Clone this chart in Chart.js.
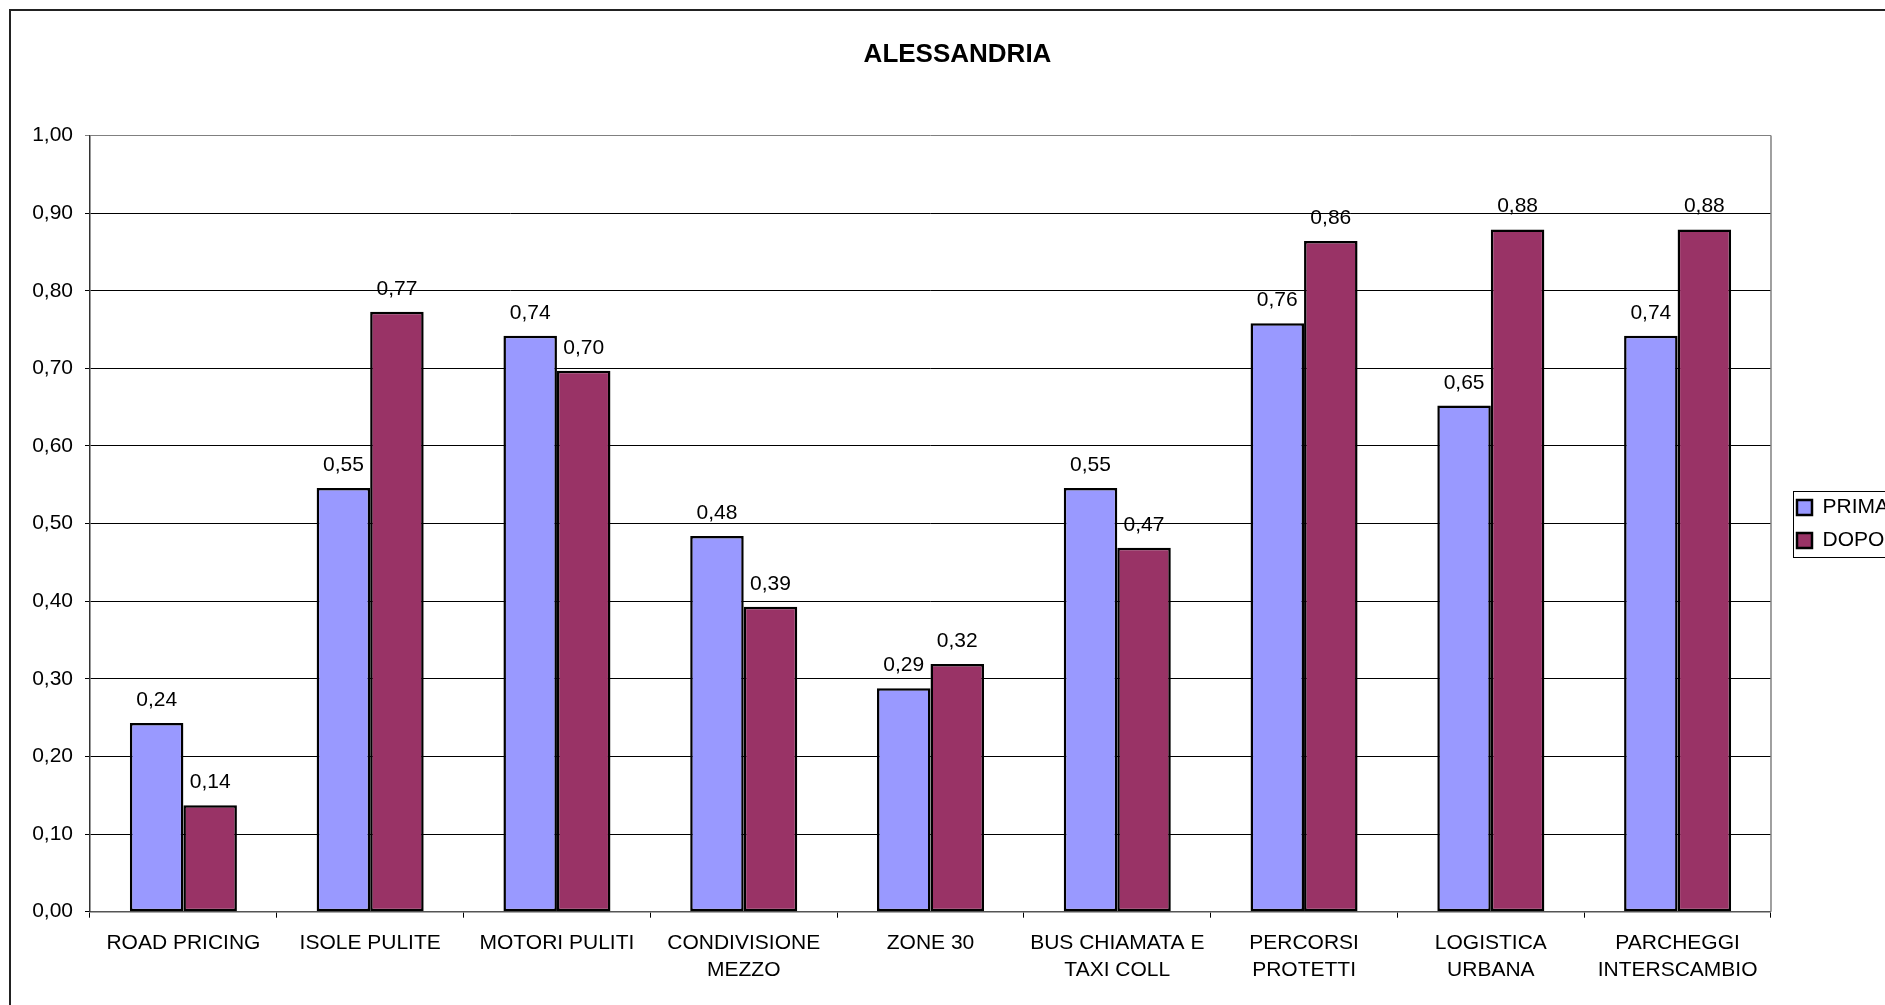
<!DOCTYPE html>
<html><head><meta charset="utf-8">
<script src="https://cdn.jsdelivr.net/npm/chart.js@4/dist/chart.umd.min.js"></script>
<style>html,body{margin:0;padding:0;background:#fff;overflow:hidden}canvas{display:block}</style>
</head><body>
<canvas id="c" width="1885" height="1005"></canvas>
<script>
const chartTitle = "ALESSANDRIA";
const categories = ["ROAD PRICING", "ISOLE PULITE", "MOTORI PULITI", ["CONDIVISIONE", "MEZZO"], "ZONE 30", ["BUS CHIAMATA E", "TAXI COLL"], ["PERCORSI", "PROTETTI"], ["LOGISTICA", "URBANA"], ["PARCHEGGI", "INTERSCAMBIO"]];
const seriesNames = ["PRIMA", "DOPO"];
const primaValues = [0.243, 0.546, 0.742, 0.484, 0.288, 0.546, 0.758, 0.652, 0.742];
const dopoValues = [0.137, 0.773, 0.697, 0.393, 0.319, 0.469, 0.864, 0.879, 0.879];
const yMin = 0, yMax = 1, yStep = 0.1;

const FONT = "'Liberation Sans', Arial, sans-serif";
const fmt = v => (Math.round(v * 100) / 100).toFixed(2).replace('.', ',');
Chart.defaults.color = '#000';
Chart.defaults.font.family = FONT;
Chart.defaults.font.size = 21;

const framePlugin = {
  id: 'frame',
  beforeDraw(chart) {
    const ctx = chart.ctx;
    ctx.save();
    ctx.strokeStyle = '#222';
    ctx.lineWidth = 2;
    ctx.strokeRect(10, 10, chart.width + 100, chart.height + 100);
    ctx.restore();
  },
  beforeDatasetsDraw(chart) {
    const {ctx, chartArea} = chart;
    ctx.save();
    ctx.strokeStyle = '#808080';
    ctx.lineWidth = 1.5;
    ctx.beginPath();
    ctx.moveTo(chartArea.right, chartArea.top);
    ctx.lineTo(chartArea.right, chartArea.bottom);
    ctx.stroke();
    ctx.restore();
  },
  afterLayout(chart) {
    const lg = chart.legend;
    if (lg) { lg.left += 14; lg.right += 14; }
  },
  afterDatasetsDraw(chart) {
    const ctx = chart.ctx;
    ctx.save();
    ctx.font = '21px ' + FONT;
    ctx.fillStyle = '#000';
    ctx.textAlign = 'center';
    ctx.textBaseline = 'alphabetic';
    chart.data.datasets.forEach((ds, i) => {
      const meta = chart.getDatasetMeta(i);
      meta.data.forEach((bar, j) => {
        ctx.fillText(fmt(ds.data[j]), bar.x, bar.y - 17);
      });
    });
    ctx.restore();
  },
  afterDraw(chart) {
    const lg = chart.legend;
    if (!lg || !lg.legendHitBoxes || !lg.legendHitBoxes.length) return;
    const hb = lg.legendHitBoxes;
    const first = hb[0], last = hb[hb.length - 1];
    const ctx = chart.ctx;
    ctx.save();
    ctx.strokeStyle = '#000';
    ctx.lineWidth = 1;
    const x = Math.round(first.left - 4) + 0.5;
    const y = Math.round(first.top - 6) + 0.5;
    const h = Math.round(last.top + last.height + 6) - Math.round(first.top - 6);
    ctx.strokeRect(x, y, chart.width, h);
    ctx.restore();
  }
};

new Chart(document.getElementById('c'), {
  type: 'bar',
  data: {
    labels: categories,
    datasets: [
      { label: seriesNames[0], data: primaValues, backgroundColor: '#9999FF', borderColor: '#000', borderWidth: 2.5, borderSkipped: false },
      { label: seriesNames[1], data: dopoValues, backgroundColor: '#993366', borderColor: '#000', borderWidth: 2.5, borderSkipped: false }
    ]
  },
  options: {
    responsive: false,
    animation: false,
    devicePixelRatio: 1,
    layout: { padding: { top: 43, left: 30, right: 0, bottom: 0 } },
    datasets: { bar: { categoryPercentage: 0.573, barPercentage: 1 } },
    plugins: {
      title: {
        display: true, text: chartTitle, color: '#000',
        font: { family: FONT, size: 26, weight: 'bold', lineHeight: 0.75 },
        padding: { top: 2, bottom: 71 }
      },
      legend: {
        display: true, position: 'right', align: 'center',
        labels: { boxWidth: 15, boxHeight: 15, padding: 12, color: '#000', font: { family: FONT, size: 21 } }
      },
      tooltip: { enabled: false }
    },
    scales: {
      x: {
        afterFit: s => { s.height = 93.3; },
        grid: { display: true, drawOnChartArea: false, drawTicks: true, tickLength: 6, color: '#000', offset: true },
        border: { display: true, color: '#555', width: 1.5 },
        ticks: { autoSkip: false, maxRotation: 0, minRotation: 0, padding: 12, color: '#000', font: { family: FONT, size: 21, lineHeight: 1.2857 } }
      },
      y: {
        min: yMin, max: yMax,
        afterFit: s => { s.width = 60; },
        grid: {
          drawTicks: true, tickLength: 5,
          color: c => (c.tick && c.tick.value > 0.999) ? '#808080' : '#000',
          lineWidth: 1
        },
        border: { display: true, color: '#333', width: 1.5 },
        ticks: { stepSize: yStep, padding: 12, color: '#000', font: { family: FONT, size: 21 }, callback: v => fmt(v) }
      }
    }
  },
  plugins: [framePlugin]
});
</script>
</body></html>
